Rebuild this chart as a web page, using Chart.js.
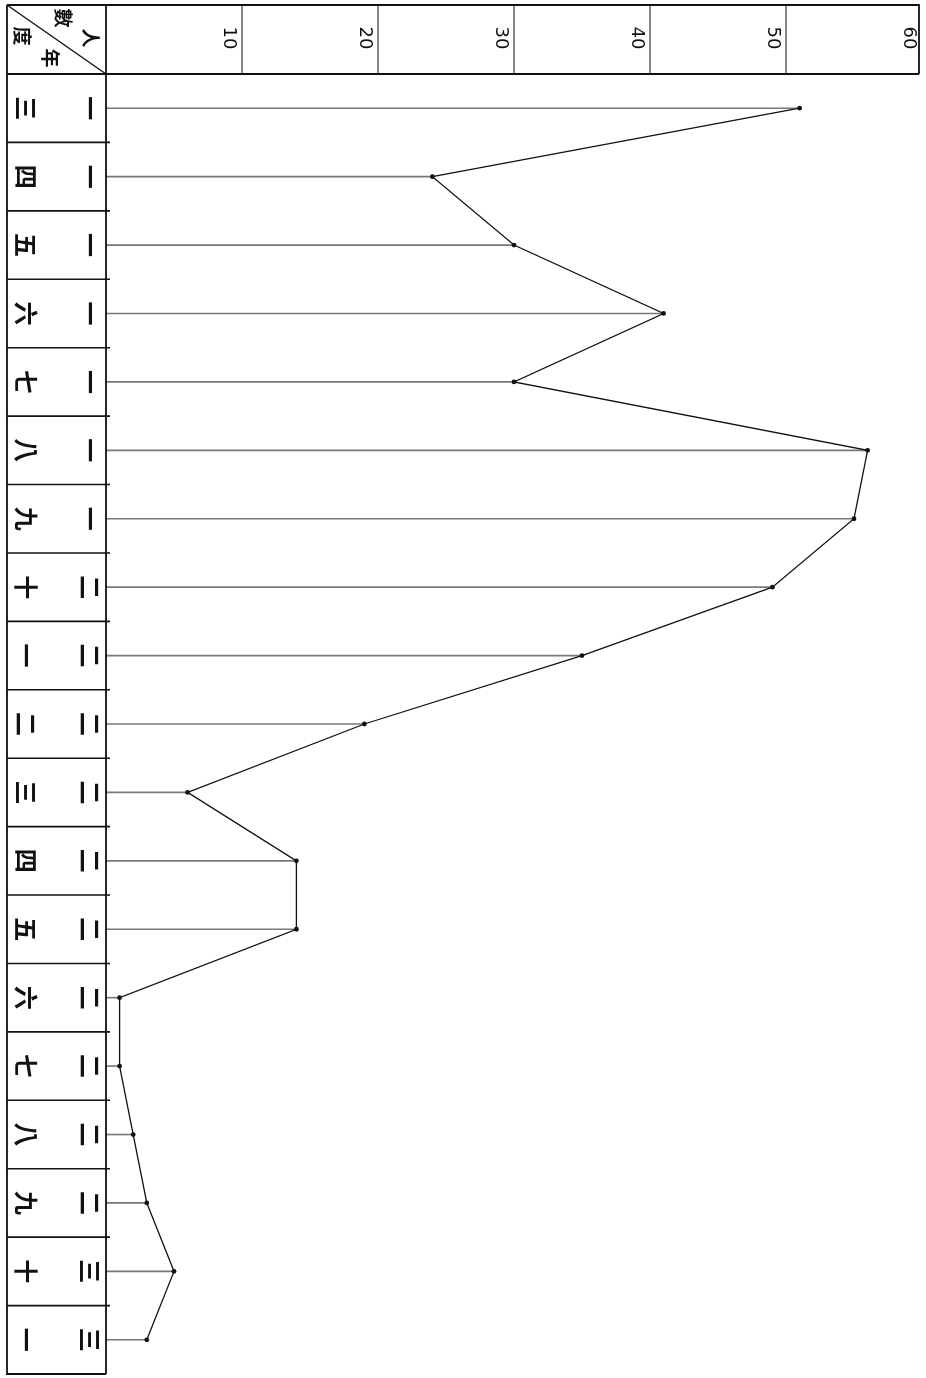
<!DOCTYPE html>
<html>
<head>
<meta charset="utf-8">
<script src="https://cdn.jsdelivr.net/npm/chart.js@4/dist/chart.umd.min.js"></script>
<style>
  html, body { margin: 0; padding: 0; background: #fff; }
  #wrap { width: 926px; height: 1378px; position: relative; }
</style>
</head>
<body>
<div id="wrap"><canvas id="grafica" width="926" height="1378"></canvas></div>
<script>
// 年度 (民國十三年 ~ 三十一年), written as vertical digit pairs
var anios = ["一三", "一四", "一五", "一六", "一七", "一八", "一九", "二十", "二一", "二二",
             "二三", "二四", "二五", "二六", "二七", "二八", "二九", "三十", "三一"];
// 人數 per year
var personas = [51, 24, 30, 41, 30, 56, 55, 49, 35, 19, 6, 14, 14, 1, 1, 2, 3, 5, 3];
// value axis ticks
var marcas = [10, 20, 30, 40, 50, 60];
var titulo_arriba = "人數";
var titulo_abajo = "年度";

var cjk = '"Noto Sans CJK TC", "Noto Sans CJK SC", sans-serif';

// draws text rotated a quarter turn clockwise (page was turned sideways)
function textoGirado(ctx, txt, x, y, font) {
  ctx.save();
  ctx.translate(x, y);
  ctx.rotate(Math.PI / 2);
  ctx.font = font;
  ctx.textAlign = "center";
  ctx.textBaseline = "middle";
  ctx.fillText(txt, 0, 0);
  ctx.restore();
}

var tabla = {
  id: "tabla",
  afterDraw: function (chart) {
    var ctx = chart.ctx;
    var area = chart.chartArea;
    var xs = chart.scales.x;
    var ys = chart.scales.y;
    var izq = 7, arriba = 5;
    var alto = (area.bottom - area.top) / anios.length;

    ctx.save();
    ctx.strokeStyle = "#111";
    ctx.fillStyle = "#111";
    ctx.lineWidth = 1.8;

    // outer frame of header + year column
    ctx.beginPath();
    ctx.moveTo(izq, arriba);
    ctx.lineTo(area.right - 3, arriba);
    ctx.lineTo(area.right - 3, area.top);
    ctx.moveTo(izq, area.top);
    ctx.lineTo(area.right - 3, area.top);
    ctx.moveTo(izq, arriba);
    ctx.lineTo(izq, area.bottom);
    ctx.lineTo(area.left, area.bottom);
    ctx.moveTo(area.left, arriba);
    ctx.lineTo(area.left, area.bottom);
    ctx.stroke();

    // corner diagonal
    ctx.lineWidth = 1.4;
    ctx.beginPath();
    ctx.moveTo(izq, arriba);
    ctx.lineTo(area.left, area.top);
    ctx.stroke();

    // header columns and value labels
    ctx.lineWidth = 1;
    marcas.forEach(function (m) {
      var px = xs.getPixelForValue(m);
      if (m < 60) {
        ctx.beginPath();
        ctx.moveTo(px, arriba);
        ctx.lineTo(px, area.top);
        ctx.stroke();
      }
      textoGirado(ctx, String(m), px - 13, 38, '18px "DejaVu Sans"');
    });

    // row separators
    ctx.lineWidth = 1.6;
    for (var i = 1; i < anios.length; i++) {
      var py = area.top + i * alto;
      ctx.beginPath();
      ctx.moveTo(izq, py);
      ctx.lineTo(area.left + 4, py);
      ctx.stroke();
    }

    // year characters: first digit right column, second digit left column
    anios.forEach(function (a, i) {
      var py = ys.getPixelForValue(i);
      textoGirado(ctx, a.charAt(0), 90, py, "bold 24px " + cjk);
      textoGirado(ctx, a.charAt(1), 26, py, "bold 24px " + cjk);
    });

    // corner titles
    textoGirado(ctx, titulo_arriba.charAt(0), 90, 38, "bold 19px " + cjk);
    textoGirado(ctx, titulo_arriba.charAt(1), 63, 18, "bold 19px " + cjk);
    textoGirado(ctx, titulo_abajo.charAt(0), 50, 58, "bold 19px " + cjk);
    textoGirado(ctx, titulo_abajo.charAt(1), 22, 36, "bold 19px " + cjk);

    ctx.restore();
  },
};

var ctx = document.getElementById("grafica").getContext("2d");

var myChart = new Chart(ctx, {
  type: "bar",
  data: {
    labels: anios,
    datasets: [
      {
        type: "line",
        label: "人數",
        data: personas,
        borderColor: "#111",
        borderWidth: 1.3,
        pointRadius: 2.4,
        pointBackgroundColor: "#111",
        pointBorderWidth: 0,
        tension: 0,
      },
      {
        label: "橫線",
        data: personas,
        backgroundColor: "rgba(30, 30, 30, 0.6)",
        barThickness: 1,
      },
    ],
  },
  options: {
    indexAxis: "y",
    responsive: false,
    animation: false,
    devicePixelRatio: 1,
    layout: {
      padding: { left: 106, top: 74, right: 0, bottom: 3 },
    },
    scales: {
      x: { display: false, min: 0, max: 60 },
      y: { display: false, offset: true },
    },
    plugins: {
      legend: { display: false },
      tooltip: { enabled: false },
    },
  },
  plugins: [tabla],
});
</script>
</body>
</html>
